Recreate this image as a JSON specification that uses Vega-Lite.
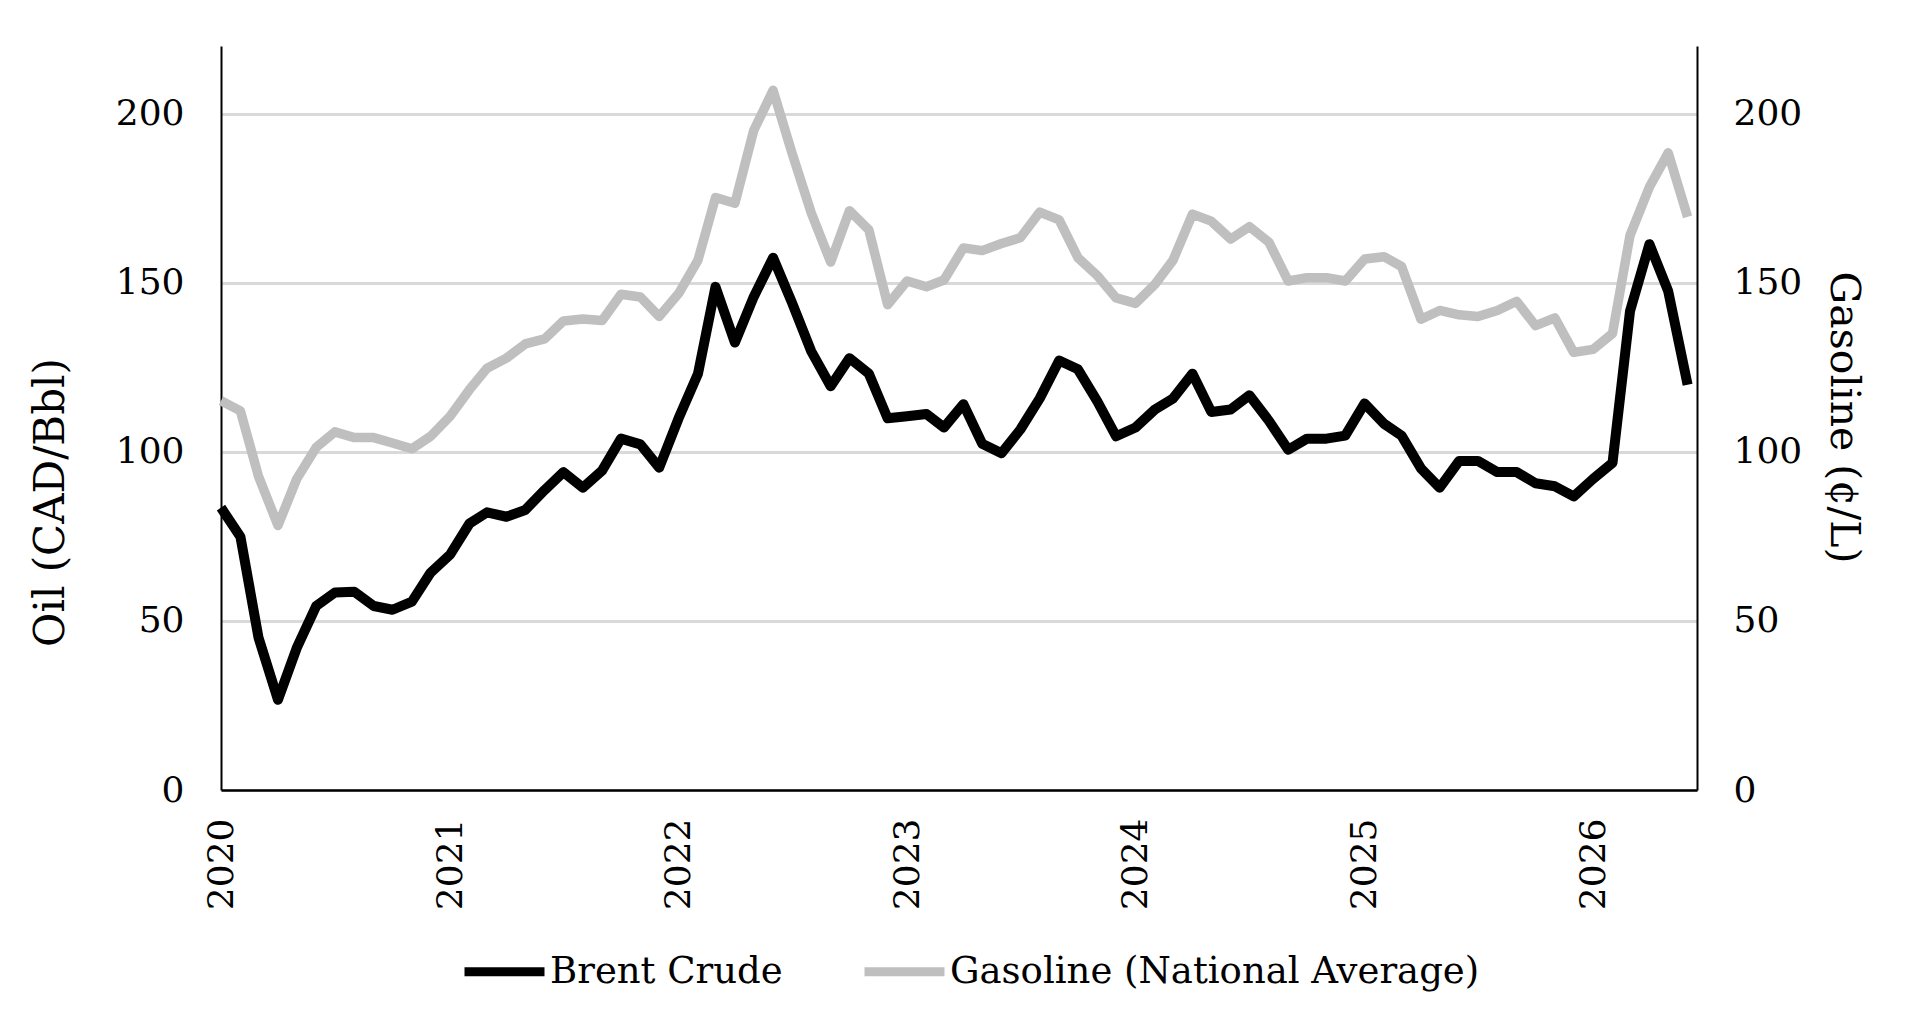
{
  "$schema": "https://vega.github.io/schema/vega-lite/v6.json",
  "width": 1476,
  "height": 744,
  "autosize": {"type": "none"},
  "padding": {"left": 221, "top": 46, "right": 223, "bottom": 244},
  "background": "#ffffff",
  "config": {
    "font": "DejaVu Serif",
    "view": {"stroke": null},
    "axis": {"labelColor": "#000000", "titleColor": "#000000", "titleFontWeight": "normal"},
    "legend": {"labelColor": "#000000"}
  },
  "data": {
    "values": [
      {"date": "2020-01-01", "brent": 83.5, "gasoline": 115.1},
      {"date": "2020-02-01", "brent": 74.9, "gasoline": 112.1},
      {"date": "2020-03-01", "brent": 45.0, "gasoline": 92.7},
      {"date": "2020-04-01", "brent": 26.7, "gasoline": 78.2},
      {"date": "2020-05-01", "brent": 42.0, "gasoline": 92.0},
      {"date": "2020-06-01", "brent": 54.4, "gasoline": 101.3},
      {"date": "2020-07-01", "brent": 58.4, "gasoline": 105.9},
      {"date": "2020-08-01", "brent": 58.6, "gasoline": 104.2},
      {"date": "2020-09-01", "brent": 54.4, "gasoline": 104.2},
      {"date": "2020-10-01", "brent": 53.3, "gasoline": 102.6},
      {"date": "2020-11-01", "brent": 55.7, "gasoline": 100.9},
      {"date": "2020-12-01", "brent": 64.3, "gasoline": 104.6},
      {"date": "2021-01-01", "brent": 69.6, "gasoline": 110.5},
      {"date": "2021-02-01", "brent": 78.8, "gasoline": 118.4},
      {"date": "2021-03-01", "brent": 82.1, "gasoline": 124.7},
      {"date": "2021-04-01", "brent": 80.8, "gasoline": 127.7},
      {"date": "2021-05-01", "brent": 82.8, "gasoline": 131.9},
      {"date": "2021-06-01", "brent": 88.7, "gasoline": 133.4},
      {"date": "2021-07-01", "brent": 94.0, "gasoline": 138.7},
      {"date": "2021-08-01", "brent": 89.4, "gasoline": 139.3},
      {"date": "2021-09-01", "brent": 94.5, "gasoline": 138.8},
      {"date": "2021-10-01", "brent": 103.9, "gasoline": 146.6},
      {"date": "2021-11-01", "brent": 102.2, "gasoline": 145.8},
      {"date": "2021-12-01", "brent": 95.3, "gasoline": 140.0},
      {"date": "2022-01-01", "brent": 109.9, "gasoline": 146.8},
      {"date": "2022-02-01", "brent": 123.1, "gasoline": 156.7},
      {"date": "2022-03-01", "brent": 148.8, "gasoline": 175.2},
      {"date": "2022-04-01", "brent": 132.3, "gasoline": 173.5},
      {"date": "2022-05-01", "brent": 145.8, "gasoline": 195.0},
      {"date": "2022-06-01", "brent": 157.4, "gasoline": 206.9},
      {"date": "2022-07-01", "brent": 144.2, "gasoline": 188.5},
      {"date": "2022-08-01", "brent": 129.7, "gasoline": 170.6},
      {"date": "2022-09-01", "brent": 119.4, "gasoline": 156.1},
      {"date": "2022-10-01", "brent": 127.7, "gasoline": 171.3},
      {"date": "2022-11-01", "brent": 123.1, "gasoline": 165.6},
      {"date": "2022-12-01", "brent": 109.9, "gasoline": 143.5},
      {"date": "2023-01-01", "brent": 110.5, "gasoline": 150.5},
      {"date": "2023-02-01", "brent": 111.2, "gasoline": 148.8},
      {"date": "2023-03-01", "brent": 107.2, "gasoline": 150.8},
      {"date": "2023-04-01", "brent": 114.1, "gasoline": 160.3},
      {"date": "2023-05-01", "brent": 102.4, "gasoline": 159.5},
      {"date": "2023-06-01", "brent": 99.6, "gasoline": 161.6},
      {"date": "2023-07-01", "brent": 106.6, "gasoline": 163.3},
      {"date": "2023-08-01", "brent": 115.8, "gasoline": 170.9},
      {"date": "2023-09-01", "brent": 127.0, "gasoline": 168.6},
      {"date": "2023-10-01", "brent": 124.4, "gasoline": 157.4},
      {"date": "2023-11-01", "brent": 114.9, "gasoline": 152.1},
      {"date": "2023-12-01", "brent": 104.6, "gasoline": 145.5},
      {"date": "2024-01-01", "brent": 107.2, "gasoline": 143.9},
      {"date": "2024-02-01", "brent": 112.5, "gasoline": 149.5},
      {"date": "2024-03-01", "brent": 115.8, "gasoline": 156.7},
      {"date": "2024-04-01", "brent": 123.1, "gasoline": 170.3},
      {"date": "2024-05-01", "brent": 111.8, "gasoline": 168.2},
      {"date": "2024-06-01", "brent": 112.5, "gasoline": 162.9},
      {"date": "2024-07-01", "brent": 116.7, "gasoline": 166.6},
      {"date": "2024-08-01", "brent": 109.2, "gasoline": 162.0},
      {"date": "2024-09-01", "brent": 100.6, "gasoline": 150.5},
      {"date": "2024-10-01", "brent": 103.9, "gasoline": 151.5},
      {"date": "2024-11-01", "brent": 103.9, "gasoline": 151.5},
      {"date": "2024-12-01", "brent": 104.8, "gasoline": 150.5},
      {"date": "2025-01-01", "brent": 114.3, "gasoline": 157.0},
      {"date": "2025-02-01", "brent": 108.3, "gasoline": 157.7},
      {"date": "2025-03-01", "brent": 104.8, "gasoline": 154.8},
      {"date": "2025-04-01", "brent": 95.1, "gasoline": 139.2},
      {"date": "2025-05-01", "brent": 89.4, "gasoline": 141.8},
      {"date": "2025-06-01", "brent": 97.3, "gasoline": 140.5},
      {"date": "2025-07-01", "brent": 97.3, "gasoline": 140.0},
      {"date": "2025-08-01", "brent": 94.0, "gasoline": 141.8},
      {"date": "2025-09-01", "brent": 94.0, "gasoline": 144.5},
      {"date": "2025-10-01", "brent": 90.7, "gasoline": 137.3},
      {"date": "2025-11-01", "brent": 89.8, "gasoline": 139.6},
      {"date": "2025-12-01", "brent": 86.8, "gasoline": 129.4},
      {"date": "2026-01-01", "brent": 92.0, "gasoline": 130.3},
      {"date": "2026-02-01", "brent": 96.7, "gasoline": 135.0},
      {"date": "2026-03-01", "brent": 141.6, "gasoline": 164.0},
      {"date": "2026-04-01", "brent": 161.4, "gasoline": 178.3},
      {"date": "2026-05-01", "brent": 147.5, "gasoline": 188.4},
      {"date": "2026-06-01", "brent": 119.8, "gasoline": 169.5}
    ]
  },
  "encoding": {
    "x": {
      "field": "date",
      "type": "temporal",
      "scale": {"type": "utc", "domain": ["2020-01-01", "2026-06-16"], "nice": false},
      "axis": {
        "title": null,
        "format": "%Y",
        "tickCount": {"interval": "year", "step": 1},
        "labelAngle": -90,
        "labelFontSize": 36,
        "labelPadding": 28,
        "ticks": false,
        "grid": false,
        "domainColor": "#000000",
        "domainWidth": 2.5
      }
    }
  },
  "layer": [
    {
      "mark": {"type": "line", "strokeWidth": 9.5, "strokeJoin": "round", "strokeCap": "butt"},
      "encoding": {
        "y": {
          "field": "gasoline",
          "type": "quantitative",
          "scale": {"domain": [0, 220], "nice": false},
          "axis": {
            "orient": "right",
            "values": [0, 50, 100, 150, 200],
            "grid": false,
            "ticks": false,
            "domainColor": "#000000",
            "domainWidth": 2,
            "labelFontSize": 36,
            "labelPadding": 36,
            "title": "Gasoline (¢/L)",
            "titleFontSize": 41,
            "titleAngle": 90,
            "titleX": 145,
            "titleY": 371,
            "titleAlign": "center",
            "titleBaseline": "middle"
          }
        },
        "color": {
          "datum": "Gasoline (National Average)",
          "scale": {"domain": ["Brent Crude", "Gasoline (National Average)"], "range": ["#000000", "#bfbfbf"]}
        }
      }
    },
    {
      "mark": {"type": "line", "strokeWidth": 10, "strokeJoin": "round", "strokeCap": "butt"},
      "encoding": {
        "y": {
          "field": "brent",
          "type": "quantitative",
          "scale": {"domain": [0, 220], "nice": false},
          "axis": {
            "orient": "left",
            "values": [0, 50, 100, 150, 200],
            "grid": true,
            "gridColor": "#d9d9d9",
            "gridWidth": 2.8,
            "ticks": false,
            "domainColor": "#000000",
            "domainWidth": 2,
            "labelFontSize": 36,
            "labelPadding": 37,
            "title": "Oil (CAD/Bbl)",
            "titleFontSize": 42,
            "titleAngle": -90,
            "titleX": -171,
            "titleY": 456,
            "titleAlign": "center",
            "titleBaseline": "middle"
          }
        },
        "color": {
          "datum": "Brent Crude",
          "scale": {"domain": ["Brent Crude", "Gasoline (National Average)"], "range": ["#000000", "#bfbfbf"]},
          "legend": {
            "title": null,
            "orient": "none",
            "direction": "horizontal",
            "legendX": 239,
            "legendY": 881,
            "symbolType": "stroke",
            "symbolSize": 6400,
            "symbolStrokeWidth": 9,
            "labelFontSize": 37,
            "labelLimit": 0,
            "labelOffset": 1,
            "columnPadding": 63
          }
        }
      }
    }
  ],
  "resolve": {"scale": {"y": "independent"}}
}
